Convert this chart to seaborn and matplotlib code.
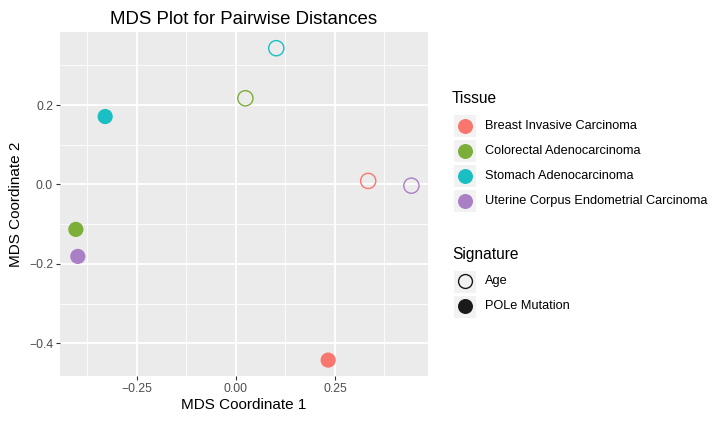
import numpy as np
import pandas as pd
import matplotlib
matplotlib.use("Agg")
import matplotlib.pyplot as plt
import seaborn as sns
from matplotlib.lines import Line2D
from matplotlib.patches import Rectangle

# ---- data ----
tissues = ["Breast Invasive Carcinoma", "Colorectal Adenocarcinoma",
           "Stomach Adenocarcinoma", "Uterine Corpus Endometrial Carcinoma"]
signatures = ["Age", "POLe Mutation"]
age_x = [0.334, 0.024, 0.102, 0.443]
age_y = [0.009, 0.217, 0.343, -0.003]
pole_x = [0.233, -0.404, -0.330, -0.399]
pole_y = [-0.442, -0.113, 0.171, -0.181]
palette = ["#F8766D", "#7CAE3A", "#1ABFC4", "#A97FC6"]
x_ticks = [-0.25, 0.0, 0.25]
x_ticklabels = ["\u22120.25", "0.00", "0.25"]
y_ticks = [-0.4, -0.2, 0.0, 0.2]
y_ticklabels = ["\u22120.4", "\u22120.2", "0.0", "0.2"]

df = pd.DataFrame({
    "x": age_x + pole_x,
    "y": age_y + pole_y,
    "Tissue": tissues * 2,
    "Signature": [signatures[0]] * 4 + [signatures[1]] * 4,
})
pal = dict(zip(tissues, palette))

sns.set_theme(style="darkgrid")
plt.rcParams["font.family"] = ["Liberation Sans", "DejaVu Sans"]

fig = plt.figure(figsize=(7.22, 4.23), dpi=100)
ax = fig.add_axes([60 / 722, 1 - 376 / 423, 368 / 722, (376 - 32.3) / 423])
ax.set_facecolor("#EBEBEB")

pole = df[df.Signature == "POLe Mutation"]
age = df[df.Signature == "Age"]
sns.scatterplot(data=pole, x="x", y="y", hue="Tissue", palette=pal, s=120,
                linewidth=0, ax=ax, legend=False, zorder=3)
sns.scatterplot(data=age, x="x", y="y", hue="Tissue", palette=pal, s=120,
                linewidth=1.0, ax=ax, legend=False, zorder=3)
coll = ax.collections[-1]
fc = coll.get_facecolors()
coll.set_edgecolors(fc)
coll.set_facecolors("none")

ax.set_xlim(-0.444, 0.485)
ax.set_ylim(-0.482, 0.383)
ax.set_xticks(x_ticks)
ax.set_xticklabels(x_ticklabels)
ax.set_yticks(y_ticks)
ax.set_yticklabels(y_ticklabels)
ax.set_xticks([-0.375, -0.125, 0.125, 0.375], minor=True)
ax.set_yticks([-0.3, -0.1, 0.1, 0.3], minor=True)
ax.grid(which="major", color="white", linewidth=1.3)
ax.grid(which="minor", color="white", linewidth=0.6)
ax.set_axisbelow(True)
for s in ax.spines.values():
    s.set_visible(False)
ax.tick_params(which="major", length=3, width=0.8, color="#333333",
               labelsize=8.8, labelcolor="#4D4D4D", pad=2, bottom=True, left=True)
ax.tick_params(which="minor", length=0)
ax.set_xlabel("MDS Coordinate 1", fontsize=11, color="black", labelpad=2)
ax.set_ylabel("MDS Coordinate 2", fontsize=11, color="black", labelpad=4)
ax.set_title("MDS Plot for Pairwise Distances", fontsize=13.4, color="black", pad=6)

# ---- legend (manual, ggplot-like) ----
W, H = 722, 423
def fx(px): return px / W
def fy(py): return 1 - py / H

key_x0, key_w = 453, 23
key_cx = key_x0 + key_w / 2
label_x = 485

fig.text(fx(452), fy(98.5), "Tissue", fontsize=11.2, va="center", ha="left", color="black")
rows_t = [126, 151, 176, 201]
for t, c, ry in zip(tissues, palette, rows_t):
    fig.add_artist(Rectangle((fx(key_x0), fy(ry + 11.5)), key_w / W, 23 / H,
                             transform=fig.transFigure, facecolor="#F2F2F2",
                             edgecolor="white", linewidth=0.8))
    fig.add_artist(Line2D([fx(key_cx)], [fy(ry)], marker="o", markersize=10.8,
                          markerfacecolor=c, markeredgecolor=c, markeredgewidth=0,
                          linestyle="none", transform=fig.transFigure))
    fig.text(fx(label_x), fy(ry), t, fontsize=9.2, va="center", ha="left", color="black")

fig.text(fx(452), fy(254), "Signature", fontsize=11.2, va="center", ha="left", color="black")
rows_s = [281, 306]
for s, ry in zip(signatures, rows_s):
    fig.add_artist(Rectangle((fx(key_x0), fy(ry + 11.5)), key_w / W, 23 / H,
                             transform=fig.transFigure, facecolor="#F2F2F2",
                             edgecolor="white", linewidth=0.8))
    filled = s != "Age"
    fig.add_artist(Line2D([fx(key_cx)], [fy(ry)], marker="o",
                          markersize=10.8 if filled else 10.0,
                          markerfacecolor="#1A1A1A" if filled else "none",
                          markeredgecolor="#1A1A1A",
                          markeredgewidth=0 if filled else 1.0,
                          linestyle="none", transform=fig.transFigure))
    fig.text(fx(label_x), fy(ry), s, fontsize=9.2, va="center", ha="left", color="black")

fig.savefig("out.png", dpi=100, facecolor="white")
